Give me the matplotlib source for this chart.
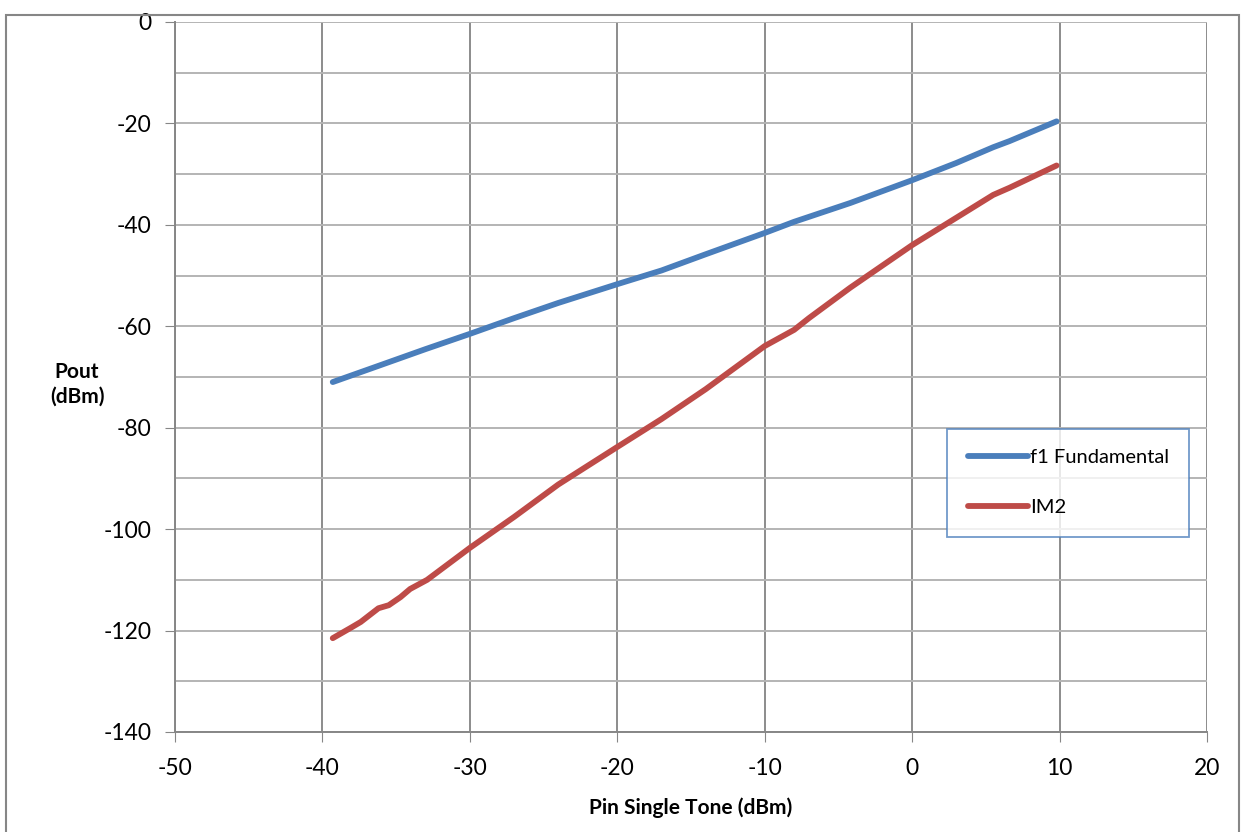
import matplotlib.pyplot as plt
from matplotlib.patches import Rectangle

plt.rcParams['font.family'] = ['Lato', 'DejaVu Sans']
plt.rcParams['axes.unicode_minus'] = False

# Pin (dBm) and Pout (dBm)
pin_f1 = [-39.3, -36, -33, -30, -27, -24, -20, -17, -14, -10, -8, -4.2, 0, 3, 5.5, 6.6, 9.8]
pout_f1 = [-71.0, -67.6, -64.5, -61.5, -58.4, -55.4, -51.7, -49.0, -45.8, -41.6, -39.4, -35.7, -31.2, -27.8, -24.7, -23.5, -19.6]

pin_im2 = [-39.3, -38.1, -37.4, -36.2, -35.5, -34.7, -34.05, -32.9, -30, -27, -24, -20, -17, -14,
           -10, -8, -7, -4.2, 0, 3, 5.5, 6.6, 9.8]
pout_im2 = [-121.5, -119.5, -118.3, -115.6, -115.0, -113.4, -111.8, -110.0, -103.7, -97.6, -91.2, -83.8,
            -78.3, -72.4, -63.9, -60.7, -58.4, -52.4, -44.0, -38.6, -34.1, -32.7, -28.3]

x_ticks = [-50, -40, -30, -20, -10, 0, 10, 20]
y_ticks = [0, -20, -40, -60, -80, -100, -120, -140]

fig = plt.figure(figsize=(12.43, 8.32), dpi=100)
ax = fig.add_axes([0.1408, 0.1202, 0.8302, 0.8534])

ax.plot(pin_f1, pout_f1, color='#4A7EBB', lw=4.2, label='f1 Fundamental', solid_capstyle='round',
        solid_joinstyle='round')
ax.plot(pin_im2, pout_im2, color='#BE4B48', lw=4.2, label='IM2', solid_capstyle='round',
        solid_joinstyle='round')

ax.set_xlim(-50, 20)
ax.set_ylim(-140, 0)
ax.set_xticks(x_ticks)
ax.set_yticks(y_ticks)
ax.set_yticks(range(-130, 0, 20), minor=True)
ax.tick_params(axis='y', which='minor', length=0)
ax.tick_params(labelsize=16.5, length=7, color='#868686')
ax.tick_params(axis='x', pad=12)
ax.tick_params(axis='y', pad=10)

ax.grid(axis='x', color='#8C8C8C', lw=1.4)
ax.grid(axis='y', which='both', color='#B4B4B4', lw=1.4)
ax.set_axisbelow(True)

for s in ['top', 'right']:
    ax.spines[s].set_visible(False)
for s in ['left', 'bottom']:
    ax.spines[s].set_color('#868686')
    ax.spines[s].set_linewidth(1.4)

ax.set_xlabel('Pin Single Tone (dBm)', fontsize=15, fontweight='bold', labelpad=13)
fig.text(0.062, 0.538, 'Pout\n(dBm)', fontsize=15, fontweight='bold', ha='center', va='center',
         linespacing=1.25)

leg = ax.legend(loc='upper left', bbox_to_anchor=(0.7485, 0.427), fontsize=14.5, frameon=True,
                fancybox=False, handlelength=3.0, handletextpad=0.1, labelspacing=1.65,
                borderpad=1.0, borderaxespad=0)
leg.get_frame().set_edgecolor('#4F81BD')
leg.get_frame().set_linewidth(1.3)

fig.patches.append(Rectangle((0.005, -0.01), 0.992, 0.9995 - 0.008, transform=fig.transFigure,
                             fill=False, edgecolor='#868686', lw=1.5))

fig.savefig('out.png', dpi=100)
